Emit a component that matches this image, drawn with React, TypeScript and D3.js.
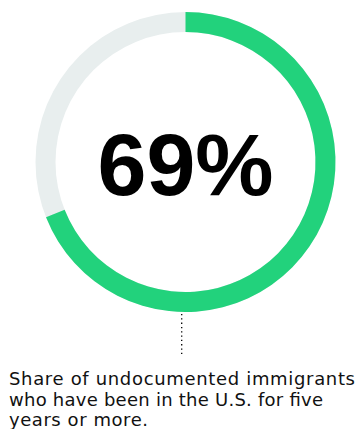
import React from "react";
import * as d3 from "d3";

const shareValue = [69];
const bigLabel = ["69%"];
const captionLines = [
  "Share of undocumented immigrants",
  "who have been in the U.S. for five",
  "years or more.",
];
const captionWidths = [346, 314, 139];

export default function App() {
  const width = 358;
  const height = 429;
  const cx = 185.5;
  const cy = 162;
  const outerR = 150;
  const innerR = 130;
  const scale = d3.scaleLinear().domain([0, 100]).range([0, 2 * Math.PI]);
  const arc = d3.arc<any>().innerRadius(innerR).outerRadius(outerR);
  const bg = arc({ startAngle: 0, endAngle: 2 * Math.PI } as any) || "";
  const fg = arc({ startAngle: 0, endAngle: scale(shareValue[0]) } as any) || "";
  return (
    <svg
      width={width}
      height={height}
      style={{ position: "absolute", left: 0, top: 0 }}
    >
      <rect width={width} height={height} fill="#fff" />
      <g transform={`translate(${cx},${cy})`}>
        <path d={bg} fill="#e8eeee" />
        <path d={fg} fill="#22d27c" />
        <text
          x={0}
          y={33}
          textAnchor="middle"
          fontFamily="Liberation Sans, Arial, sans-serif"
          fontWeight={700}
          fontSize={88}
          fill="#000"
        >
          {bigLabel[0]}
        </text>
      </g>
      <line
        x1={181.7}
        x2={181.7}
        y1={314}
        y2={356}
        stroke="#000"
        strokeWidth={1.3}
        strokeDasharray="1.3 3"
      />
      {captionLines.map((t, i) => (
        <text
          key={i}
          x={9}
          y={385 + i * 20.5}
          fontFamily="DejaVu Sans, sans-serif"
          fontSize={18}
          textLength={captionWidths[i]}
          lengthAdjust="spacing"
          fill="#111"
        >
          {t}
        </text>
      ))}
    </svg>
  );
}
